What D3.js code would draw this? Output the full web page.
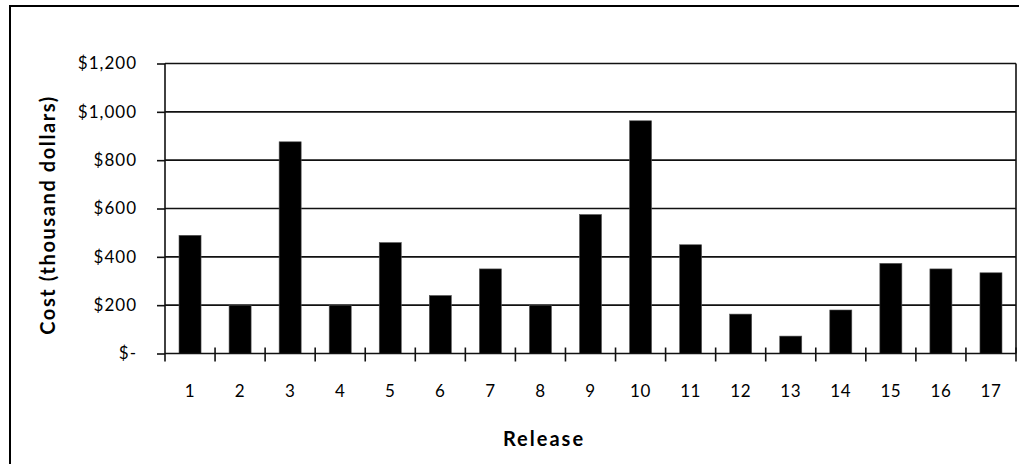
<!DOCTYPE html>
<html>
<head>
<meta charset="utf-8">
<script src="https://cdn.jsdelivr.net/npm/d3@7"></script>
<style>
  html, body { margin: 0; padding: 0; background: #fff; }
  svg { display: block; }
  text { font-family: Lato, "Liberation Sans", sans-serif; fill: #000; }
</style>
</head>
<body>
<svg id="chart" width="1019" height="464"></svg>
<script>
// Release cost data (thousand dollars)
const releases = ["1","2","3","4","5","6","7","8","9","10","11","12","13","14","15","16","17"];
const costs = [489, 200, 876, 200, 459, 240, 350, 200, 575, 963, 450, 163, 72, 180, 373, 350, 334];
const yTickValues = [0, 200, 400, 600, 800, 1000, 1200];
const yTickLabels = ["$-", "$200", "$400", "$600", "$800", "$1,000", "$1,200"];
const xTitle = "Release";
const yTitle = "Cost (thousand dollars)";

const svg = d3.select("#chart");
const W = 1019, H = 464;
const plot = { left: 165, right: 1016, top: 63.5, bottom: 353.5 };

// Outer chart frame
svg.append("rect")
  .attr("x", 10).attr("y", 6)
  .attr("width", W + 20).attr("height", H + 20)
  .attr("fill", "none").attr("stroke", "#000").attr("stroke-width", 2);

const x = d3.scaleBand()
  .domain(releases)
  .range([plot.left, plot.right])
  .paddingInner(0.56)
  .paddingOuter(0.28);

const y = d3.scaleLinear()
  .domain([0, 1200])
  .range([plot.bottom, plot.top]);

// Horizontal gridlines
svg.append("g")
  .selectAll("line")
  .data(yTickValues.slice(1))
  .join("line")
  .attr("x1", plot.left).attr("x2", plot.right)
  .attr("y1", d => y(d)).attr("y2", d => y(d))
  .attr("stroke", "#111").attr("stroke-width", 1.6);

// Right border of plot area
svg.append("line")
  .attr("x1", plot.right).attr("x2", plot.right)
  .attr("y1", plot.top).attr("y2", plot.bottom)
  .attr("stroke", "#111").attr("stroke-width", 1.6);

// Bars
svg.append("g")
  .selectAll("rect")
  .data(costs)
  .join("rect")
  .attr("x", (d, i) => x(releases[i]))
  .attr("width", x.bandwidth())
  .attr("y", d => y(d))
  .attr("height", d => y(0) - y(d))
  .attr("fill", "#000")
  .attr("stroke", "#555")
  .attr("stroke-width", 0.6);

// Y axis
const yAxis = d3.axisLeft(y)
  .tickValues(yTickValues)
  .tickFormat((d, i) => yTickLabels[i])
  .tickSize(8)
  .tickPadding(20);

const gy = svg.append("g")
  .attr("transform", `translate(${plot.left},0)`)
  .call(yAxis);
gy.select(".domain").attr("stroke", "#111").attr("stroke-width", 1.6)
  .attr("d", `M0,${plot.top}V${plot.bottom + 8}`);
gy.selectAll(".tick line").attr("stroke", "#111").attr("stroke-width", 1.6);
gy.selectAll(".tick text")
  .style("font-size", "17px")
  .style("letter-spacing", "1px")
  .attr("fill", "#000");

// X axis: tick marks at category boundaries, crossing the axis line
const xBoundary = d3.scaleLinear().domain([0, releases.length]).range([plot.left, plot.right]);
svg.append("line")
  .attr("x1", plot.left).attr("x2", plot.right)
  .attr("y1", plot.bottom).attr("y2", plot.bottom)
  .attr("stroke", "#111").attr("stroke-width", 1.6);
svg.append("g")
  .selectAll("line")
  .data(d3.range(1, releases.length + 1))
  .join("line")
  .attr("x1", d => xBoundary(d)).attr("x2", d => xBoundary(d))
  .attr("y1", plot.bottom - 6).attr("y2", plot.bottom + 8)
  .attr("stroke", "#111").attr("stroke-width", 1.6);

svg.append("g")
  .selectAll("text")
  .data(releases)
  .join("text")
  .attr("x", d => x(d) + x.bandwidth() / 2)
  .attr("y", 397)
  .attr("text-anchor", "middle")
  .style("font-size", "17px")
  .style("letter-spacing", "0.6px")
  .text(d => d);

// Axis titles
svg.append("text")
  .attr("x", 544).attr("y", 446)
  .attr("text-anchor", "middle")
  .style("font-size", "20px")
  .style("font-weight", "bold")
  .style("letter-spacing", "2px")
  .text(xTitle);

svg.append("text")
  .attr("transform", `translate(55,215) rotate(-90)`)
  .attr("text-anchor", "middle")
  .style("font-size", "20px")
  .style("font-weight", "bold")
  .style("letter-spacing", "1.6px")
  .text(yTitle);
</script>
</body>
</html>
